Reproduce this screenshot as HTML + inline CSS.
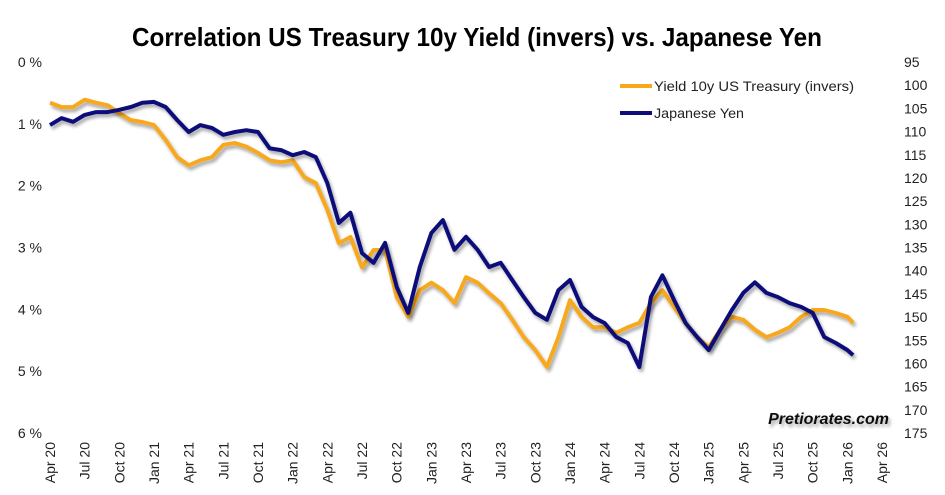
<!DOCTYPE html>
<html><head><meta charset="utf-8"><style>
html,body{margin:0;padding:0;background:#fff;}
svg{display:block;font-family:"Liberation Sans",sans-serif;}
</style></head><body>
<svg id="chart" width="945" height="495" viewBox="0 0 945 495">
<defs><filter id="sh" x="-5%" y="-5%" width="110%" height="110%"><feDropShadow dx="2" dy="3" stdDeviation="1.5" flood-color="#000" flood-opacity="0.35"/></filter></defs>
<text x="477" y="46" text-anchor="middle" font-size="26" font-weight="bold" textLength="690" lengthAdjust="spacingAndGlyphs" fill="#000">Correlation US Treasury 10y Yield (invers) vs. Japanese Yen</text>
<g id="yl"></g>
<g id="yr"></g>
<g id="xa"></g>
<g id="series"></g>
<g>
<line x1="620" y1="86" x2="652" y2="86" stroke="#F7A81B" stroke-width="4"/>
<text x="654" y="91" font-size="14" fill="#222" textLength="200" lengthAdjust="spacingAndGlyphs">Yield 10y US Treasury (invers)</text>
<line x1="620" y1="113" x2="652" y2="113" stroke="#0C0C7A" stroke-width="4"/>
<text x="654" y="118" font-size="14" fill="#222" textLength="90" lengthAdjust="spacingAndGlyphs">Japanese Yen</text>
</g>
<text x="889" y="424" text-anchor="end" font-size="16" font-weight="bold" font-style="italic" fill="#111" filter="url(#sh)">Pretiorates.com</text>
</svg>
<script>
const months = [0,1,2,3,4,5,6,7,8,9,10,11,12,13,14,15,16,17,18,19,20,21,22,23,24,25,26,27,28,29,30,31,32,33,34,35,36,37,38,39,40,41,42,43,44,45,46,47,48,49,50,51,52,53,54,55,56,57,58,59,60,61,62,63,64,65,66,67,68,69,69.5];
const yenValues = [108.6,107.1,107.9,106.4,105.8,105.8,105.3,104.7,103.8,103.6,104.7,107.5,110.1,108.6,109.2,110.7,110.1,109.7,110.1,113.6,114.0,115.1,114.4,115.5,121.1,129.7,127.5,136.2,138.3,134.0,143.5,149.1,139.2,131.9,129.1,135.5,132.7,135.5,139.2,138.3,142.0,145.7,149.1,150.6,144.2,142.0,147.8,150.0,151.3,154.3,155.6,160.8,145.7,141.0,146.3,151.3,154.3,157.1,152.8,148.5,144.8,142.5,144.8,145.7,147.0,147.8,149.1,154.3,155.6,157.1,158.2];
const yieldValues = [0.66,0.73,0.73,0.61,0.66,0.70,0.83,0.94,0.97,1.02,1.26,1.54,1.67,1.59,1.54,1.34,1.31,1.37,1.47,1.59,1.62,1.59,1.86,1.96,2.39,2.93,2.83,3.32,3.04,3.04,3.80,4.12,3.69,3.57,3.69,3.90,3.48,3.57,3.74,3.90,4.17,4.45,4.66,4.93,4.45,3.85,4.12,4.29,4.29,4.38,4.29,4.22,3.90,3.69,3.96,4.22,4.45,4.61,4.33,4.12,4.17,4.33,4.45,4.38,4.29,4.12,4.01,4.01,4.06,4.12,4.22];
const leftTicks = [0,1,2,3,4,5,6];
const rightTicks = [95,100,105,110,115,120,125,130,135,140,145,150,155,160,165,170,175];
const xLabels = ["Apr 20","Jul 20","Oct 20","Jan 21","Apr 21","Jul 21","Oct 21","Jan 22","Apr 22","Jul 22","Oct 22","Jan 23","Apr 23","Jul 23","Oct 23","Jan 24","Apr 24","Jul 24","Oct 24","Jan 25","Apr 25","Jul 25","Oct 25","Jan 26","Apr 26"];

const NS="http://www.w3.org/2000/svg";
const top0=62, bot=433, x0=50, x1=882;
const xScale=m=>x0+m*(x1-x0)/72;
const yLeft=v=>top0+v/6*(bot-top0);
const yRight=v=>top0+(v-95)/80*(bot-top0);
function mk(tag,attrs,parent){const e=document.createElementNS(NS,tag);for(const k in attrs)e.setAttribute(k,attrs[k]);parent.appendChild(e);return e;}

const yl=document.getElementById('yl');
leftTicks.forEach(t=>{
  const e=mk('text',{x:42,y:yLeft(t)+5,'text-anchor':'end','font-size':14,fill:'#222'},yl);
  
  
  e.textContent=t+' %';
});
const yr=document.getElementById('yr');
rightTicks.forEach(t=>{
  const e=mk('text',{x:904,y:yRight(t)+5,'font-size':14,fill:'#222'},yr);
  
  
  e.textContent=t;
});
const xa=document.getElementById('xa');
xLabels.forEach((l,i)=>{
  const x=xScale(i*3);
  const e=mk('text',{x:0,y:0,'text-anchor':'end','font-size':14,fill:'#222',transform:`translate(${x+5},442) rotate(-90)`},xa);
  
  
  e.textContent=l;
});
const sg=document.getElementById('series');
const py=months.map((m,i)=>xScale(m).toFixed(1)+','+yLeft(yieldValues[i]).toFixed(1)).join(' ');
const p1=mk('polyline',{points:py,fill:'none',stroke:'#F7A81B','stroke-width':4,'stroke-linejoin':'round',filter:'url(#sh)'},sg);


const pj=months.map((m,i)=>xScale(m).toFixed(1)+','+yRight(yenValues[i]).toFixed(1)).join(' ');
const p2=mk('polyline',{points:pj,fill:'none',stroke:'#0C0C7A','stroke-width':4,'stroke-linejoin':'round',filter:'url(#sh)'},sg);


</script>
</body></html>
